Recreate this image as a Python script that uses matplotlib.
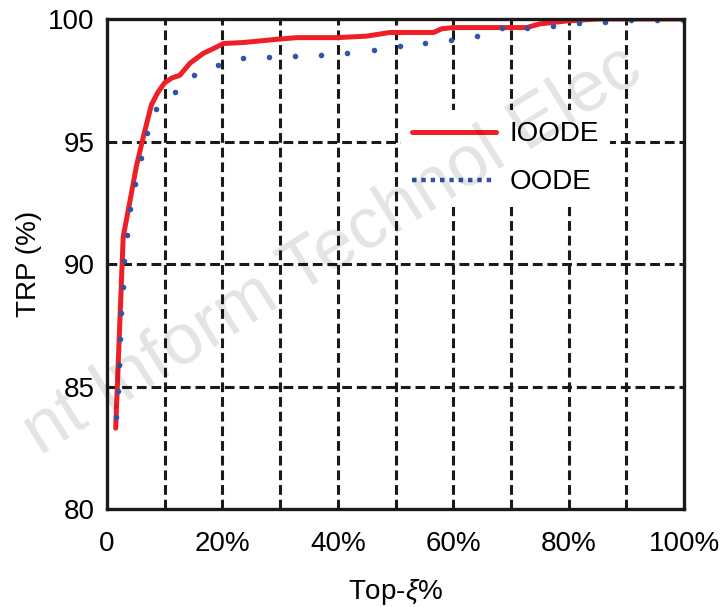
import numpy as np
import matplotlib.pyplot as plt
from matplotlib.lines import Line2D

plt.rcParams['font.family'] = ['Liberation Sans', 'DejaVu Sans']
plt.rcParams['mathtext.fontset'] = 'custom'
plt.rcParams['mathtext.it'] = 'Liberation Sans:italic'
plt.rcParams['mathtext.rm'] = 'Liberation Sans'

# ---------------------------
# DATA
# ---------------------------
ioode_x = [1.5, 2.2, 2.8, 4.0, 5.1, 6.3, 7.7, 8.8, 10.0, 11.3, 12.6, 14.4, 16.7,
           18.5, 20.2, 23.6, 29.4, 32.9, 39.8, 45.0, 49.0, 52.5, 56.6, 58.0,
           60.0, 72.7, 75.0, 79.7, 85.0, 100.0]
ioode_y = [83.3, 87.5, 91.1, 92.6, 94.0, 95.2, 96.5, 97.0, 97.4, 97.6, 97.7, 98.2, 98.6,
           98.8, 99.0, 99.04, 99.17, 99.24, 99.24, 99.3, 99.45, 99.45, 99.45, 99.6,
           99.65, 99.65, 99.8, 99.92, 100.0, 100.0]

oode_x = [1.50, 1.85, 2.08, 2.31, 2.48, 2.72, 2.95, 3.47, 4.04, 4.80, 5.89, 6.99,
          8.49, 11.73, 15.13, 19.24, 23.57, 28.08, 32.64, 37.1, 41.6, 46.2, 50.7,
          55.1, 59.6, 64.1, 68.4, 72.8, 77.3, 81.8, 86.3, 90.8, 95.4, 99.9]
oode_y = [83.76, 84.82, 85.88, 86.94, 88.0, 89.07, 90.13, 91.18, 92.24, 93.28, 94.32, 95.33,
          96.34, 97.04, 97.70, 98.11, 98.39, 98.46, 98.51, 98.55, 98.62, 98.74, 98.88,
          99.01, 99.13, 99.31, 99.62, 99.62, 99.72, 99.85, 99.88, 99.95, 99.95, 99.97]

x_ticks = [0, 20, 40, 60, 80, 100]
x_tick_labels = ["0", "20%", "40%", "60%", "80%", "100%"]
y_ticks = [80, 85, 90, 95, 100]

red = "#ee1f26"
blue = "#2f55a8"

fig = plt.figure(figsize=(7.28, 6.07), dpi=100)
ax = fig.add_axes([0.147, 0.1614, 0.7926, 0.8073])

# watermark, semi-transparent on top
fig.text(0.055, 0.25, "nt Inform Technol Elec", fontsize=52,
         color="black", alpha=0.11, rotation=32, rotation_mode="anchor",
         ha="left", va="baseline", zorder=10)

# dashed grid every 10% / 5
dash = (0, (3.2, 1.6))
for gx in range(10, 100, 10):
    ax.axvline(gx, color="#1a1a1a", lw=2.2, ls=dash, zorder=1)
for gy in [85, 90, 95]:
    ax.axhline(gy, color="#1a1a1a", lw=2.2, ls=dash, zorder=1)

ax.plot(ioode_x, ioode_y, color=red, lw=3.6, solid_capstyle="round", zorder=3)
ax.plot(oode_x, oode_y, ls="none", marker="o", ms=4.0, color=blue,
        markeredgewidth=0, zorder=4)

ax.set_xlim(0, 100)
ax.set_ylim(80, 100)
ax.set_xticks(x_ticks)
ax.set_xticklabels(x_tick_labels)
ax.set_yticks(y_ticks)
ax.tick_params(length=0, labelsize=20)
ax.tick_params(axis="x", pad=16)
ax.tick_params(axis="y", pad=9)
for s in ax.spines.values():
    s.set_linewidth(2.4)
    s.set_color("#1a1a1a")
    s.set_zorder(5)
ax.patch.set_alpha(0)

ax.set_xlabel("Top-$\\mathit{\\xi}$%", fontsize=20, labelpad=14)
ax.set_ylabel("TRP (%)", fontsize=20, labelpad=4)

handles = [
    Line2D([], [], color=red, lw=3.6, solid_capstyle="round"),
    Line2D([], [], color=blue, lw=3.2, ls=(0, (1, 1.1))),
]
leg = ax.legend(handles, ["IOODE", "OODE"], loc="upper left",
                bbox_to_anchor=(0.51, 0.814), borderaxespad=0, fontsize=20,
                frameon=True, handlelength=3.0, handletextpad=0.5,
                labelspacing=0.8, borderpad=0.4, fancybox=False)
leg.get_frame().set_edgecolor("none")
leg.get_frame().set_facecolor("white")
leg.get_frame().set_alpha(1)
leg.set_zorder(6)

plt.savefig("out.png", dpi=100)
